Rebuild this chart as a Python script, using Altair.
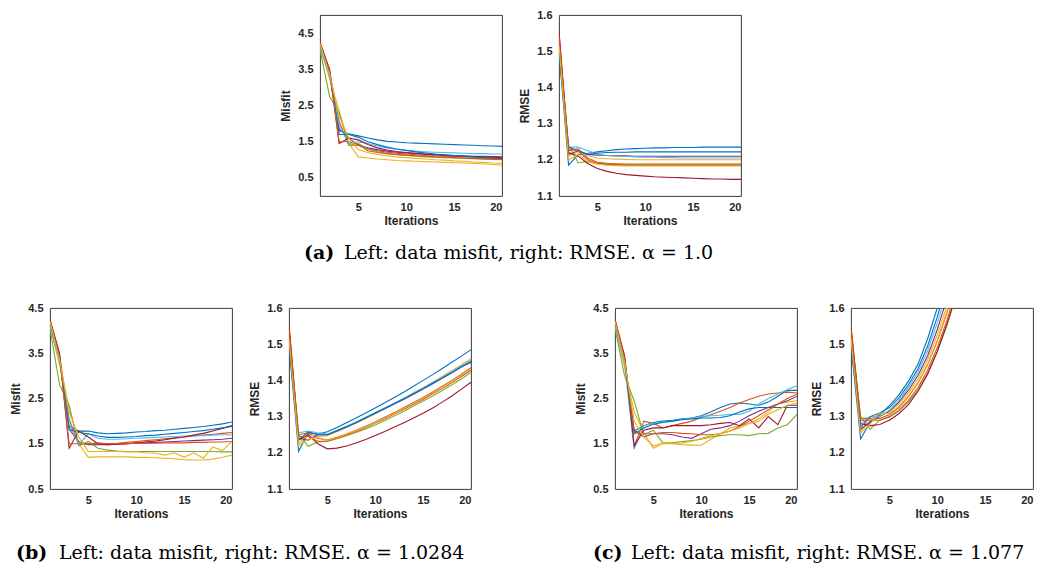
import altair as alt
import pandas as pd

ITER = list(range(1, 21))
RUNS = ["r01", "r02", "r03", "r04", "r05", "r06", "r07", "r08", "r09", "r10"]
COLORS = ["#0072BD", "#D95319", "#EDB120", "#7E2F8E", "#77AC30",
          "#4DBEEE", "#A2142F", "#0072BD", "#D95319", "#EDB120"]

# (a) alpha = 1.0 : data misfit
A_MISFIT = [
    [4.15, 3.35, 1.80, 1.72, 1.66, 1.60, 1.55, 1.51, 1.49, 1.47, 1.46, 1.45, 1.44, 1.43, 1.42, 1.41, 1.40, 1.39, 1.38, 1.37],
    [4.22, 3.45, 2.05, 1.40, 1.40, 1.30, 1.25, 1.21, 1.18, 1.16, 1.14, 1.12, 1.11, 1.10, 1.09, 1.08, 1.07, 1.06, 1.05, 1.04],
    [4.10, 3.25, 2.35, 1.45, 1.08, 1.05, 1.02, 1.00, 0.98, 0.97, 0.96, 0.95, 0.94, 0.93, 0.92, 0.91, 0.90, 0.89, 0.87, 0.85],
    [4.15, 3.38, 1.85, 1.60, 1.40, 1.33, 1.28, 1.24, 1.21, 1.19, 1.17, 1.15, 1.14, 1.13, 1.12, 1.11, 1.10, 1.10, 1.09, 1.08],
    [4.05, 2.75, 2.30, 1.40, 1.45, 1.30, 1.22, 1.17, 1.14, 1.12, 1.10, 1.08, 1.07, 1.06, 1.05, 1.04, 1.03, 1.02, 1.01, 1.00],
    [4.12, 3.30, 1.95, 1.45, 1.50, 1.45, 1.38, 1.33, 1.29, 1.26, 1.24, 1.22, 1.21, 1.20, 1.19, 1.18, 1.17, 1.17, 1.16, 1.16],
    [4.25, 3.50, 1.45, 1.60, 1.55, 1.42, 1.33, 1.27, 1.23, 1.20, 1.18, 1.16, 1.14, 1.12, 1.11, 1.10, 1.09, 1.08, 1.07, 1.06],
    [4.18, 3.40, 1.70, 1.70, 1.62, 1.50, 1.42, 1.35, 1.30, 1.26, 1.22, 1.19, 1.16, 1.14, 1.12, 1.10, 1.08, 1.06, 1.04, 1.02],
    [4.22, 3.42, 1.50, 1.50, 1.42, 1.25, 1.20, 1.17, 1.15, 1.13, 1.11, 1.10, 1.08, 1.07, 1.06, 1.05, 1.04, 1.03, 1.02, 1.01],
    [4.20, 3.35, 2.20, 1.60, 1.28, 1.20, 1.15, 1.11, 1.08, 1.06, 1.04, 1.02, 1.00, 0.99, 0.97, 0.96, 0.94, 0.93, 0.91, 0.90],
]

# (a) alpha = 1.0 : RMSE
A_RMSE = [
    [1.500, 1.185, 1.215, 1.218, 1.222, 1.225, 1.228, 1.230, 1.231, 1.232, 1.233, 1.233, 1.234, 1.234, 1.234, 1.235, 1.235, 1.235, 1.235, 1.235],
    [1.550, 1.225, 1.230, 1.205, 1.193, 1.190, 1.189, 1.188, 1.188, 1.188, 1.188, 1.188, 1.188, 1.188, 1.188, 1.188, 1.188, 1.188, 1.188, 1.188],
    [1.520, 1.210, 1.222, 1.212, 1.205, 1.203, 1.202, 1.201, 1.200, 1.200, 1.200, 1.200, 1.200, 1.200, 1.200, 1.200, 1.200, 1.200, 1.200, 1.200],
    [1.510, 1.215, 1.225, 1.215, 1.213, 1.212, 1.211, 1.211, 1.210, 1.210, 1.210, 1.210, 1.210, 1.210, 1.210, 1.210, 1.210, 1.210, 1.210, 1.210],
    [1.530, 1.240, 1.192, 1.195, 1.190, 1.188, 1.187, 1.186, 1.186, 1.185, 1.185, 1.185, 1.185, 1.185, 1.185, 1.185, 1.185, 1.185, 1.185, 1.185],
    [1.505, 1.235, 1.235, 1.225, 1.215, 1.212, 1.210, 1.209, 1.208, 1.207, 1.207, 1.206, 1.206, 1.205, 1.205, 1.205, 1.205, 1.205, 1.205, 1.205],
    [1.555, 1.220, 1.210, 1.190, 1.176, 1.168, 1.163, 1.159, 1.157, 1.155, 1.153, 1.152, 1.151, 1.150, 1.149, 1.148, 1.147, 1.147, 1.146, 1.146],
    [1.495, 1.235, 1.225, 1.215, 1.218, 1.220, 1.221, 1.221, 1.222, 1.222, 1.222, 1.222, 1.222, 1.222, 1.222, 1.222, 1.222, 1.222, 1.222, 1.222],
    [1.540, 1.230, 1.225, 1.200, 1.190, 1.187, 1.186, 1.185, 1.185, 1.185, 1.185, 1.185, 1.185, 1.185, 1.185, 1.185, 1.185, 1.185, 1.185, 1.185],
    [1.515, 1.200, 1.215, 1.195, 1.188, 1.185, 1.184, 1.183, 1.183, 1.183, 1.183, 1.183, 1.183, 1.183, 1.183, 1.183, 1.183, 1.183, 1.183, 1.183],
]

# (b) alpha = 1.0284 : data misfit
B_MISFIT = [
    [4.15, 3.35, 1.88, 1.78, 1.78, 1.74, 1.72, 1.73, 1.74, 1.76, 1.77, 1.79, 1.80, 1.82, 1.84, 1.86, 1.88, 1.91, 1.94, 1.98],
    [4.22, 3.45, 2.05, 1.48, 1.50, 1.52, 1.50, 1.51, 1.53, 1.55, 1.57, 1.59, 1.61, 1.63, 1.65, 1.67, 1.69, 1.71, 1.73, 1.75],
    [4.10, 3.25, 2.30, 1.50, 1.20, 1.21, 1.21, 1.21, 1.21, 1.20, 1.20, 1.19, 1.18, 1.17, 1.15, 1.14, 1.14, 1.16, 1.20, 1.25],
    [4.15, 3.38, 1.82, 1.55, 1.48, 1.48, 1.48, 1.49, 1.50, 1.51, 1.52, 1.53, 1.54, 1.55, 1.56, 1.57, 1.58, 1.59, 1.60, 1.62],
    [4.05, 2.80, 2.35, 1.45, 1.55, 1.40, 1.36, 1.34, 1.33, 1.33, 1.33, 1.33, 1.33, 1.33, 1.33, 1.33, 1.33, 1.33, 1.32, 1.32],
    [4.12, 3.30, 1.95, 1.48, 1.72, 1.62, 1.60, 1.60, 1.61, 1.62, 1.63, 1.64, 1.65, 1.66, 1.67, 1.68, 1.68, 1.69, 1.70, 1.70],
    [4.25, 3.50, 1.40, 1.78, 1.65, 1.50, 1.48, 1.49, 1.50, 1.52, 1.54, 1.56, 1.59, 1.62, 1.65, 1.69, 1.73, 1.78, 1.84, 1.90],
    [4.18, 3.40, 1.82, 1.75, 1.72, 1.67, 1.64, 1.64, 1.65, 1.66, 1.68, 1.69, 1.71, 1.73, 1.75, 1.77, 1.79, 1.82, 1.85, 1.88],
    [4.22, 3.42, 1.50, 1.50, 1.50, 1.50, 1.50, 1.50, 1.50, 1.51, 1.51, 1.51, 1.52, 1.52, 1.52, 1.53, 1.53, 1.54, 1.54, 1.55],
    [4.20, 3.35, 2.20, 1.65, 1.33, 1.33, 1.33, 1.33, 1.32, 1.32, 1.30, 1.29, 1.25, 1.30, 1.20, 1.30, 1.18, 1.43, 1.35, 1.55],
]

# (b) alpha = 1.0284 : RMSE
B_RMSE = [
    [1.500, 1.204, 1.255, 1.252, 1.258, 1.270, 1.283, 1.296, 1.310, 1.324, 1.338, 1.353, 1.368, 1.384, 1.400, 1.416, 1.433, 1.450, 1.467, 1.485],
    [1.550, 1.250, 1.255, 1.240, 1.235, 1.243, 1.252, 1.262, 1.273, 1.285, 1.298, 1.311, 1.325, 1.339, 1.353, 1.368, 1.384, 1.400, 1.417, 1.435],
    [1.520, 1.225, 1.250, 1.245, 1.247, 1.258, 1.270, 1.282, 1.295, 1.308, 1.322, 1.336, 1.350, 1.365, 1.380, 1.395, 1.411, 1.427, 1.443, 1.460],
    [1.510, 1.240, 1.235, 1.250, 1.250, 1.260, 1.271, 1.283, 1.296, 1.309, 1.322, 1.335, 1.348, 1.362, 1.376, 1.391, 1.406, 1.421, 1.437, 1.452],
    [1.530, 1.250, 1.218, 1.230, 1.232, 1.239, 1.247, 1.256, 1.266, 1.277, 1.289, 1.302, 1.315, 1.329, 1.343, 1.357, 1.372, 1.388, 1.404, 1.422],
    [1.505, 1.255, 1.260, 1.255, 1.252, 1.262, 1.273, 1.285, 1.298, 1.311, 1.324, 1.337, 1.351, 1.365, 1.379, 1.394, 1.409, 1.424, 1.440, 1.456],
    [1.555, 1.235, 1.250, 1.225, 1.211, 1.213, 1.219, 1.227, 1.237, 1.248, 1.259, 1.271, 1.283, 1.296, 1.309, 1.324, 1.340, 1.357, 1.376, 1.395],
    [1.495, 1.235, 1.258, 1.250, 1.250, 1.261, 1.272, 1.284, 1.297, 1.310, 1.323, 1.336, 1.349, 1.363, 1.377, 1.392, 1.407, 1.422, 1.438, 1.450],
    [1.540, 1.245, 1.245, 1.232, 1.232, 1.240, 1.249, 1.259, 1.270, 1.282, 1.294, 1.307, 1.320, 1.334, 1.348, 1.363, 1.378, 1.394, 1.411, 1.428],
    [1.515, 1.220, 1.238, 1.242, 1.234, 1.242, 1.251, 1.261, 1.272, 1.284, 1.296, 1.309, 1.323, 1.337, 1.351, 1.366, 1.382, 1.398, 1.415, 1.432],
]

# (c) alpha = 1.077 : data misfit
C_MISFIT = [
    [4.15, 3.30, 1.78, 1.90, 1.97, 2.00, 2.02, 2.05, 2.07, 2.12, 2.20, 2.30, 2.38, 2.40, 2.38, 2.35, 2.42, 2.55, 2.68, 2.68],
    [4.22, 3.40, 1.45, 2.00, 1.95, 1.85, 1.90, 1.95, 2.00, 2.08, 2.14, 2.22, 2.30, 2.40, 2.48, 2.55, 2.60, 2.62, 2.64, 2.62],
    [4.10, 3.20, 2.20, 1.75, 1.40, 1.50, 1.50, 1.48, 1.47, 1.47, 1.60, 1.72, 1.85, 1.90, 1.95, 2.05, 2.20, 2.38, 2.42, 2.45],
    [4.15, 3.35, 1.80, 1.65, 1.72, 1.72, 1.70, 1.65, 1.62, 1.72, 1.82, 1.85, 1.90, 2.00, 2.12, 2.22, 2.30, 2.38, 2.45, 2.55],
    [4.05, 3.00, 2.45, 1.70, 1.80, 1.52, 1.52, 1.55, 1.57, 1.60, 1.65, 1.68, 1.70, 1.70, 1.68, 1.72, 1.73, 1.85, 1.92, 2.15],
    [4.12, 3.25, 1.38, 1.90, 1.95, 1.98, 2.00, 2.04, 2.07, 2.10, 2.12, 2.13, 2.15, 2.15, 2.22, 2.38, 2.50, 2.60, 2.70, 2.78],
    [4.25, 3.45, 1.45, 1.80, 1.85, 1.85, 1.90, 1.90, 1.90, 1.90, 1.92, 1.95, 1.97, 1.90, 2.05, 1.85, 2.10, 1.92, 2.35, 2.35],
    [4.18, 3.35, 1.72, 1.85, 1.93, 1.97, 2.00, 2.03, 2.05, 2.07, 2.07, 2.08, 2.12, 2.20, 2.27, 2.30, 2.30, 2.30, 2.30, 2.30],
    [4.22, 3.40, 1.75, 1.72, 1.72, 1.75, 1.75, 1.73, 1.72, 1.70, 1.70, 1.72, 1.78, 1.88, 2.00, 2.12, 2.25, 2.38, 2.50, 2.60],
    [4.20, 3.30, 2.00, 1.65, 1.45, 1.52, 1.50, 1.52, 1.55, 1.62, 1.68, 1.72, 1.78, 1.85, 1.95, 2.00, 2.15, 2.25, 2.35, 2.40],
]

# (c) alpha = 1.077 : RMSE
C_RMSE = [
    [1.500, 1.238, 1.285, 1.305, 1.330, 1.360, 1.398, 1.445, 1.515, 1.600, 1.695, 1.800, 1.910, 2.030, 2.160, 2.300, 2.450, 2.600, 2.760, 2.930],
    [1.550, 1.295, 1.295, 1.295, 1.305, 1.325, 1.355, 1.393, 1.443, 1.508, 1.585, 1.675, 1.775, 1.885, 2.000, 2.125, 2.255, 2.395, 2.540, 2.695],
    [1.520, 1.260, 1.290, 1.310, 1.312, 1.335, 1.365, 1.405, 1.457, 1.525, 1.605, 1.700, 1.800, 1.910, 2.030, 2.155, 2.290, 2.430, 2.580, 2.740],
    [1.510, 1.265, 1.285, 1.300, 1.315, 1.340, 1.373, 1.414, 1.468, 1.540, 1.625, 1.720, 1.825, 1.935, 2.055, 2.185, 2.320, 2.465, 2.615, 2.775],
    [1.530, 1.300, 1.265, 1.290, 1.298, 1.315, 1.340, 1.373, 1.418, 1.478, 1.550, 1.635, 1.730, 1.835, 1.945, 2.065, 2.190, 2.325, 2.465, 2.615],
    [1.505, 1.280, 1.300, 1.300, 1.318, 1.345, 1.380, 1.424, 1.482, 1.558, 1.645, 1.740, 1.845, 1.960, 2.080, 2.210, 2.350, 2.500, 2.650, 2.810],
    [1.545, 1.280, 1.275, 1.278, 1.290, 1.308, 1.333, 1.370, 1.418, 1.480, 1.555, 1.640, 1.735, 1.840, 1.950, 2.065, 2.185, 2.315, 2.450, 2.595],
    [1.495, 1.270, 1.300, 1.310, 1.325, 1.352, 1.388, 1.433, 1.495, 1.575, 1.665, 1.765, 1.870, 1.985, 2.110, 2.240, 2.380, 2.530, 2.690, 2.850],
    [1.540, 1.290, 1.290, 1.290, 1.300, 1.318, 1.345, 1.380, 1.428, 1.490, 1.565, 1.650, 1.745, 1.850, 1.965, 2.085, 2.215, 2.350, 2.495, 2.645],
    [1.515, 1.255, 1.280, 1.310, 1.308, 1.328, 1.357, 1.395, 1.445, 1.510, 1.590, 1.680, 1.780, 1.890, 2.005, 2.130, 2.260, 2.400, 2.545, 2.700],
]

X_TICKS = [5, 10, 15, 20]
MISFIT_TICKS = [0.5, 1.5, 2.5, 3.5, 4.5]
RMSE_TICKS = [1.1, 1.2, 1.3, 1.4, 1.5, 1.6]

CAPTION_LABELS = ["(a)", "(b)", "(c)"]
CAPTION_TEXTS = [
    "Left: data misfit, right: RMSE. \u03b1 = 1.0",
    "Left: data misfit, right: RMSE. \u03b1 = 1.0284",
    "Left: data misfit, right: RMSE. \u03b1 = 1.077",
]

PW, PH = 182, 181
NOBOX = alt.ViewBackground(stroke="transparent")
SERIF = "DejaVu Serif"
CAP_SIZE = 19


def frame(series):
    rows = []
    for run, vals in zip(RUNS, series):
        for it, v in zip(ITER, vals):
            rows.append({"run": run, "iter": it, "value": v})
    return pd.DataFrame(rows)


def panel(series, ytitle, ydomain, yticks):
    return alt.Chart(frame(series)).mark_line(clip=True, strokeWidth=1.1).encode(
        x=alt.X("iter:Q", title="Iterations",
                scale=alt.Scale(domain=[1, 20], nice=False, zero=False),
                axis=alt.Axis(values=X_TICKS)),
        y=alt.Y("value:Q", title=ytitle,
                scale=alt.Scale(domain=ydomain, nice=False, zero=False),
                axis=alt.Axis(values=yticks, format=".1f")),
        color=alt.Color("run:N", scale=alt.Scale(domain=RUNS, range=COLORS), legend=None),
        detail="run:N",
    ).properties(width=PW, height=PH)


def caption_part(text, x, y, bold):
    return alt.Chart(pd.DataFrame({"t": [text]})).mark_text(
        font=SERIF, fontSize=CAP_SIZE, fontWeight="bold" if bold else "normal",
        align="left", baseline="alphabetic", color="black",
    ).encode(text="t:N", x=alt.value(x), y=alt.value(y))


def gap(w):
    return alt.Chart(pd.DataFrame({"v": [0]})).mark_point(opacity=0, size=0).encode(
        x=alt.value(0), y=alt.value(0)
    ).properties(width=w, height=1, view=NOBOX)


a_left = panel(A_MISFIT, "Misfit", [0, 5], MISFIT_TICKS)
a_right = panel(A_RMSE, "RMSE", [1.1, 1.6], RMSE_TICKS)
b_left = panel(B_MISFIT, "Misfit", [0.5, 4.5], MISFIT_TICKS)
b_right = panel(B_RMSE, "RMSE", [1.1, 1.6], RMSE_TICKS)
c_left = panel(C_MISFIT, "Misfit", [0.5, 4.5], MISFIT_TICKS)
c_right = panel(C_RMSE, "RMSE", [1.1, 1.6], RMSE_TICKS)

# rows: single-level flush layouts, gaps are explicit spacer cells
top_row = alt.hconcat(gap(270), a_left, gap(57), a_right, spacing=0, bounds="flush")
bottom_row = alt.hconcat(
    b_left, gap(57), b_right, gap(144), c_left, gap(54), c_right,
    spacing=0, bounds="flush",
)

cap_a = alt.layer(
    caption_part(CAPTION_LABELS[0], 254, 31, True),
    caption_part(CAPTION_TEXTS[0], 294, 31, False),
).properties(width=975, height=72, view=NOBOX)

cap_bc = alt.layer(
    caption_part(CAPTION_LABELS[1], -34, 38, True),
    caption_part(CAPTION_TEXTS[1], 9, 38, False),
    caption_part(CAPTION_LABELS[2], 543, 38, True),
    caption_part(CAPTION_TEXTS[2], 581, 38, False),
).properties(width=975, height=40, view=NOBOX)

chart = alt.vconcat(
    top_row, cap_a, bottom_row, cap_bc, spacing=0
).properties(padding=0).configure_view(
    stroke="#262626", strokeWidth=0.9
).configure_axis(
    labelFont="Liberation Sans", labelFontSize=11, labelFontWeight="bold",
    labelColor="#262626", titleFont="Liberation Sans", titleFontSize=12,
    titleFontWeight="bold", titleColor="#262626", grid=False, domain=False,
    ticks=False, tickSize=0,
).configure_axisX(
    labelPadding=5, titlePadding=3, minExtent=16, maxExtent=16,
).configure_axisY(
    labelPadding=7, titlePadding=4, minExtent=24, maxExtent=24,
)

chart.save("out.html", embed_options={"renderer": "svg", "actions": False})
